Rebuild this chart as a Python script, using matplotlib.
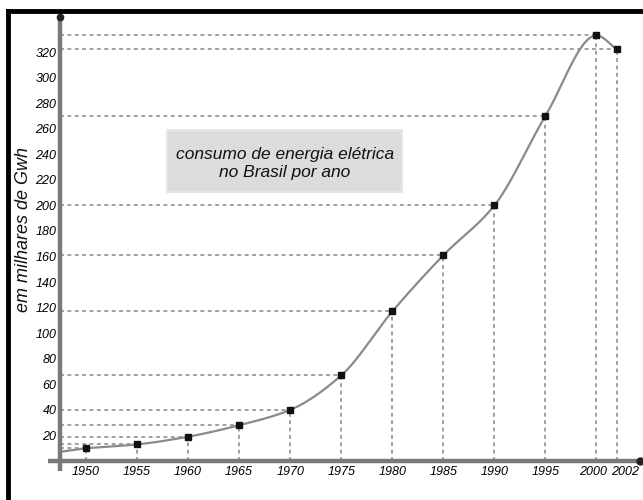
import numpy as np
import matplotlib
matplotlib.use("Agg")
import matplotlib.pyplot as plt
from matplotlib.lines import Line2D
from matplotlib.patches import Rectangle
import matplotlib.transforms as mtransforms

plt.rcParams['font.family'] = ['Liberation Sans', 'DejaVu Sans']

years = [1950, 1955, 1960, 1965, 1970, 1975, 1980, 1985, 1990, 1995, 2000, 2002]
consumo = [10, 13, 19, 28, 40, 67, 117, 161, 200, 270, 333, 322]
ytick_vals = [20, 40, 60, 80, 100, 120, 140, 160, 180, 200, 220, 240, 260, 280, 300, 320]
ylabel = "em milhares de Gwh"
title_box = "consumo de energia elétrica\nno Brasil por ano"

W, H = 643, 500
fig = plt.figure(figsize=(W / 100, H / 100), dpi=100)

# axes placement in pixels
ax_l, ax_r, ax_b, ax_t = 60, 641, 461, 17
ax = fig.add_axes([ax_l / W, 1 - ax_b / H, (ax_r - ax_l) / W, (ax_b - ax_t) / H])
xmin, xmax = 1947.45, 2004.36
ymin, ymax = 0, 347.4
ax.set_xlim(xmin, xmax)
ax.set_ylim(ymin, ymax)
for s in ax.spines.values():
    s.set_visible(False)
ax.patch.set_alpha(0)

# guide lines
gcol = '#a0a0a0'
for x, y in zip(years, consumo):
    ax.plot([xmin, x], [y, y], color=gcol, lw=1.4, ls=(0, (2.0, 1.8)), zorder=1)
    ax.plot([x, x], [0, y], color=gcol, lw=1.4, ls=(0, (2.0, 1.8)), zorder=1)

# smooth curve: monotone cubic (PCHIP) through the data points
px = np.array(years, dtype=float)
py = np.array(consumo, dtype=float)
h = np.diff(px)
d = np.diff(py) / h
m = np.zeros_like(py)
for k in range(1, len(py) - 1):
    if d[k - 1] * d[k] <= 0:
        m[k] = 0.0
    else:
        w1 = 2 * h[k] + h[k - 1]
        w2 = h[k] + 2 * h[k - 1]
        m[k] = (w1 + w2) / (w1 / d[k - 1] + w2 / d[k])
m[0] = d[0]
m[-1] = d[-1]
cx, cy = [], []
for k in range(len(px) - 1):
    t = np.linspace(0, 1, 40)
    h00 = 2 * t ** 3 - 3 * t ** 2 + 1
    h10 = t ** 3 - 2 * t ** 2 + t
    h01 = -2 * t ** 3 + 3 * t ** 2
    h11 = t ** 3 - t ** 2
    cx.extend(px[k] + t * h[k])
    cy.extend(h00 * py[k] + h10 * h[k] * m[k] + h01 * py[k + 1] + h11 * h[k] * m[k + 1])
ccol = '#8a8a8a'
ax.plot([xmin + 0.3, years[0]], [consumo[0] - 2.5, consumo[0]], color=ccol, lw=1.6, zorder=2)
ax.plot(cx, cy, color=ccol, lw=1.6, zorder=2)
ax.plot(years, consumo, 's', color='#111111', ms=4.5, zorder=3)

# axis lines
acol = '#7a7a7a'
ax.plot([1946.3, xmax - 0.1], [0, 0], color=acol, lw=3.2, clip_on=False, zorder=4, solid_capstyle='butt')
ax.plot([xmax - 0.1], [0], 'o', color='#222222', ms=5, clip_on=False, zorder=5)
ax.plot([xmin, xmin], [-8, ymax], color=acol, lw=3.2, clip_on=False, zorder=4, solid_capstyle='butt')
ax.plot([xmin], [ymax], 'o', color='#222222', ms=4.5, clip_on=False, zorder=5)

# ticks
ax.set_xticks(years)
ax.set_xticklabels([str(y) for y in years], fontsize=9, fontstyle='italic')
ax.set_yticks(ytick_vals)
ax.set_yticklabels([str(v) for v in ytick_vals], fontsize=9, fontstyle='italic')
ax.tick_params(axis='both', length=0)
ax.tick_params(axis='x', pad=3.5)
ax.tick_params(axis='y', pad=2.5)
# nudge the crowded last two year labels apart
for lab in ax.get_xticklabels():
    if lab.get_text() == '2000':
        lab.set_transform(lab.get_transform() + mtransforms.ScaledTranslation(-3 / 100, 0, fig.dpi_scale_trans))
    elif lab.get_text() == '2002':
        lab.set_transform(lab.get_transform() + mtransforms.ScaledTranslation(8 / 100, 0, fig.dpi_scale_trans))

fig.text(24 / W, 1 - 230 / H, ylabel, rotation=90, ha='center', va='center',
         fontsize=13, fontstyle='italic', color='#111111')

# title box
fig.add_artist(Rectangle((167 / W, 1 - 192 / H), (402 - 167) / W, (192 - 130) / H,
                         transform=fig.transFigure, facecolor='#dcdcdc', edgecolor='#e6e6e6', lw=1.5))
fig.text(285 / W, 1 - 163.5 / H, title_box, ha='center', va='center', fontsize=12.5,
         fontstyle='italic', color='#111111', linespacing=1.2)

# outer frame (top and left)
fig.add_artist(Line2D([8 / W, 1.0], [1 - 11 / H, 1 - 11 / H], transform=fig.transFigure, color='black', lw=3.5))
fig.add_artist(Line2D([8 / W, 8 / W], [0, 1 - 11 / H], transform=fig.transFigure, color='black', lw=3.5))

fig.savefig('out.png', dpi=100, facecolor='white')
